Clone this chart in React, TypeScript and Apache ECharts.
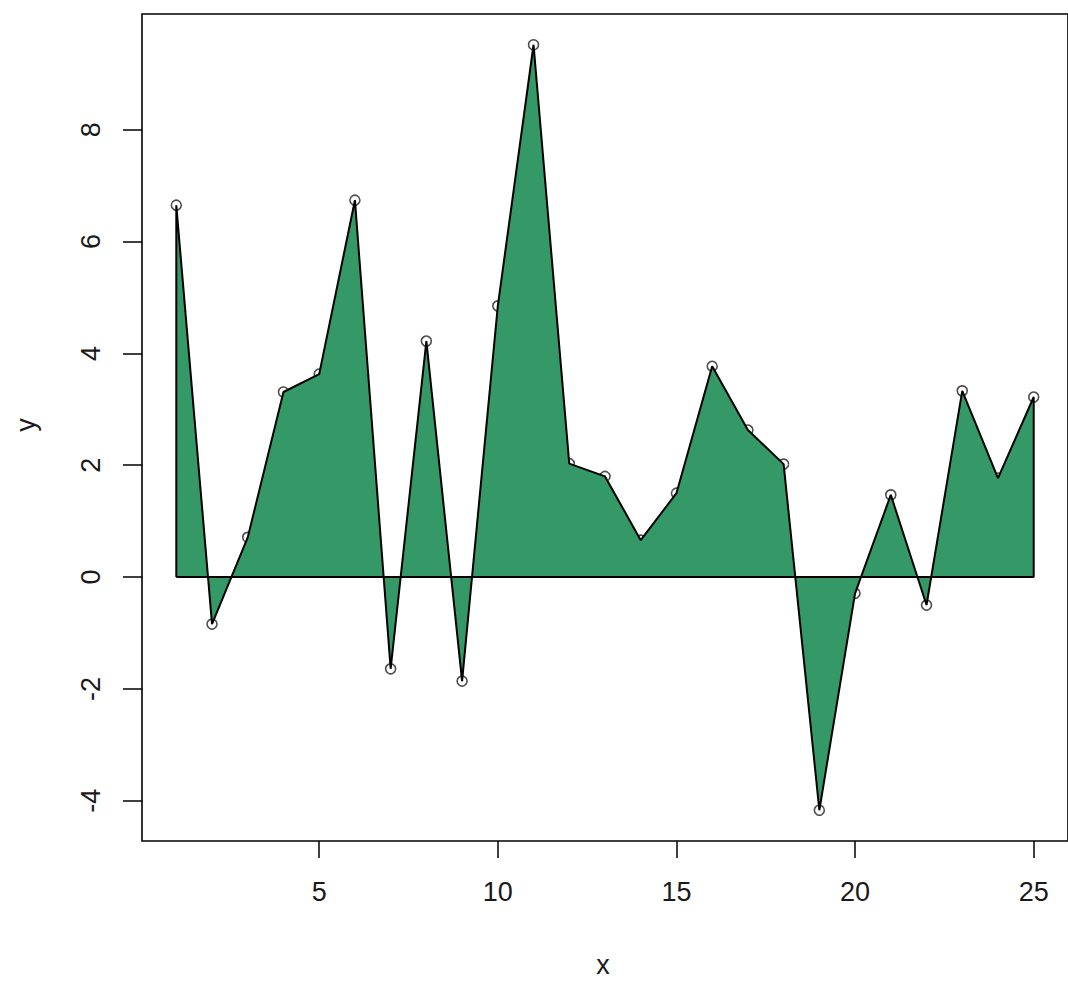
import React, { useEffect, useRef } from "react";
import * as echarts from "echarts";

const xs = [1, 2, 3, 4, 5, 6, 7, 8, 9, 10, 11, 12, 13, 14, 15, 16, 17, 18, 19, 20, 21, 22, 23, 24, 25];
const ys = [6.65, -0.84, 0.71, 3.31, 3.63, 6.74, -1.64, 4.22, -1.86, 4.85, 9.52, 2.03, 1.8, 0.66, 1.5, 3.77, 2.63, 2.02, -4.17, -0.29, 1.47, -0.5, 3.33, 1.77, 3.22];
const xTicks = [5, 10, 15, 20, 25];
const yTicks = [-4, -2, 0, 2, 4, 6, 8];
const xTitle = "x";
const yTitle = "y";

const FONT = "'Liberation Sans', Arial, sans-serif";

export default function App() {
  const ref = useRef<HTMLDivElement>(null);
  useEffect(() => {
    if (!ref.current) return;
    const chart = echarts.init(ref.current, null, { renderer: "svg" });
    const pts = xs.map((x, i) => [x, ys[i]]);
    const outline = [[xs[0], 0], ...pts, [xs[xs.length - 1], 0], [xs[0], 0]];
    chart.setOption({
      animation: false,
      backgroundColor: "#ffffff",
      grid: {
        left: 142,
        top: 14,
        width: 930,
        height: 827,
        show: true,
        borderColor: "#000",
        borderWidth: 1.6,
        backgroundColor: "transparent",
      },
      xAxis: {
        type: "value",
        min: 0.04,
        max: 25.96,
        axisLine: { show: false, onZero: false },
        splitLine: { show: false },
        axisTick: { show: true, length: 17, lineStyle: { color: "#000", width: 1.5 }, customValues: xTicks },
        axisLabel: { customValues: xTicks, fontSize: 27, fontFamily: FONT, color: "#1a1a1a", margin: 37 },
      },
      yAxis: {
        type: "value",
        min: -4.72,
        max: 10.07,
        axisLine: { show: false, onZero: false },
        splitLine: { show: false },
        axisTick: { show: true, length: 19, lineStyle: { color: "#000", width: 1.5 }, customValues: yTicks },
        axisLabel: { customValues: yTicks, rotate: 90, fontSize: 27, fontFamily: FONT, color: "#1a1a1a", margin: 38 },
      },
      graphic: [
        { type: "text", x: 603, y: 965, style: { text: xTitle, font: `27px ${FONT}`, fill: "#1a1a1a", align: "center", verticalAlign: "middle" } },
        { type: "text", x: 26, y: 425, rotation: Math.PI / 2, style: { text: yTitle, font: `27px ${FONT}`, fill: "#1a1a1a", align: "center", verticalAlign: "middle" } },
      ],
      series: [
        {
          type: "scatter",
          data: pts,
          symbol: "circle",
          symbolSize: 10,
          itemStyle: { color: "rgba(0,0,0,0)", borderColor: "#222", borderWidth: 1.6 },
          z: 2,
        },
        {
          type: "line",
          data: pts,
          showSymbol: false,
          lineStyle: { width: 0 },
          areaStyle: { origin: 0, color: "#349966", opacity: 1 },
          z: 3,
        },
        {
          type: "line",
          data: outline,
          showSymbol: false,
          lineStyle: { color: "#000", width: 2 },
          z: 4,
        },
      ],
    });
    return () => chart.dispose();
  }, []);
  return <div ref={ref} style={{ position: "fixed", left: 0, top: 0, width: 1068, height: 981 }} />;
}
